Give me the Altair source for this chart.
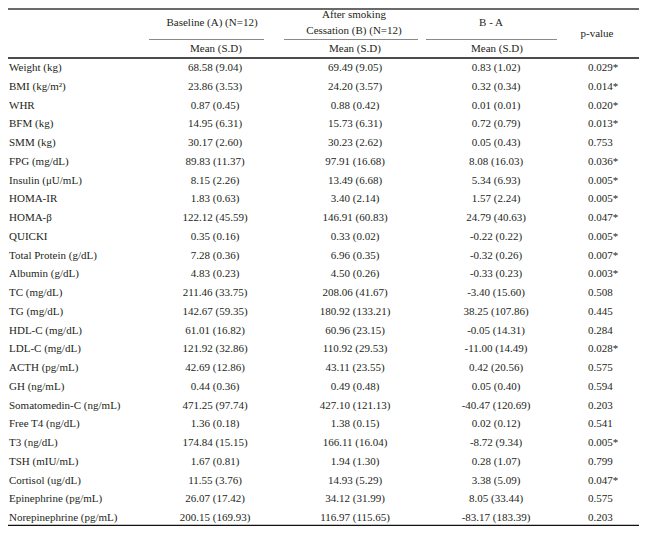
import altair as alt
import pandas as pd

# ---------------- data ----------------
labels = [
    "Weight (kg)", "BMI (kg/m²)", "WHR", "BFM (kg)", "SMM (kg)", "FPG (mg/dL)",
    "Insulin (μU/mL)", "HOMA-IR", "HOMA-β", "QUICKI", "Total Protein (g/dL)",
    "Albumin (g/dL)", "TC (mg/dL)", "TG (mg/dL)", "HDL-C (mg/dL)", "LDL-C (mg/dL)",
    "ACTH (pg/mL)", "GH (ng/mL)", "Somatomedin-C (ng/mL)", "Free T4 (ng/dL)",
    "T3 (ng/dL)", "TSH (mIU/mL)", "Cortisol (ug/dL)", "Epinephrine (pg/mL)",
    "Norepinephrine (pg/mL)",
]
baseline = [
    "68.58 (9.04)", "23.86 (3.53)", "0.87 (0.45)", "14.95 (6.31)", "30.17 (2.60)",
    "89.83 (11.37)", "8.15 (2.26)", "1.83 (0.63)", "122.12 (45.59)", "0.35 (0.16)",
    "7.28 (0.36)", "4.83 (0.23)", "211.46 (33.75)", "142.67 (59.35)", "61.01 (16.82)",
    "121.92 (32.86)", "42.69 (12.86)", "0.44 (0.36)", "471.25 (97.74)", "1.36 (0.18)",
    "174.84 (15.15)", "1.67 (0.81)", "11.55 (3.76)", "26.07 (17.42)", "200.15 (169.93)",
]
after = [
    "69.49 (9.05)", "24.20 (3.57)", "0.88 (0.42)", "15.73 (6.31)", "30.23 (2.62)",
    "97.91 (16.68)", "13.49 (6.68)", "3.40 (2.14)", "146.91 (60.83)", "0.33 (0.02)",
    "6.96 (0.35)", "4.50 (0.26)", "208.06 (41.67)", "180.92 (133.21)", "60.96 (23.15)",
    "110.92 (29.53)", "43.11 (23.55)", "0.49 (0.48)", "427.10 (121.13)", "1.38 (0.15)",
    "166.11 (16.04)", "1.94 (1.30)", "14.93 (5.29)", "34.12 (31.99)", "116.97 (115.65)",
]
diff = [
    "0.83 (1.02)", "0.32 (0.34)", "0.01 (0.01)", "0.72 (0.79)", "0.05 (0.43)",
    "8.08 (16.03)", "5.34 (6.93)", "1.57 (2.24)", "24.79 (40.63)", "-0.22 (0.22)",
    "-0.32 (0.26)", "-0.33 (0.23)", "-3.40 (15.60)", "38.25 (107.86)", "-0.05 (14.31)",
    "-11.00 (14.49)", "0.42 (20.56)", "0.05 (0.40)", "-40.47 (120.69)", "0.02 (0.12)",
    "-8.72 (9.34)", "0.28 (1.07)", "3.38 (5.09)", "8.05 (33.44)", "-83.17 (183.39)",
]
pvals = [
    "0.029*", "0.014*", "0.020*", "0.013*", "0.753", "0.036*", "0.005*", "0.005*",
    "0.047*", "0.005*", "0.007*", "0.003*", "0.508", "0.445", "0.284", "0.028*",
    "0.575", "0.594", "0.203", "0.541", "0.005*", "0.799", "0.047*", "0.575", "0.203",
]
header_texts = ["Baseline (A) (N=12)", "After smoking", "Cessation (B) (N=12)", "B - A",
                "p-value", "Mean (S.D)", "Mean (S.D)", "Mean (S.D)"]

# ---------------- layout (page pixel coordinates) ----------------
W, H = 631, 518
FONT = "Liberation Serif"
FS = 11
TC = "#231f20"
ROW_Y0 = 68
ROW_STEP = 18.75

header_x = [212, 354, 354, 491, 597, 216, 355, 497]
header_y = [23, 15, 31, 23, 34, 49, 49, 49]

rules_x = [8, 149, 284, 426, 8, 8]
rules_x2 = [639, 264, 418, 557, 639, 639]
rules_y = [9, 39.5, 39.5, 39.5, 58, 525.5]
rules_w = [2, 1, 1, 1, 1.3, 1.5]
rules_c = ["#6a6a6a", "#8a8a8a", "#8a8a8a", "#8a8a8a", "#111111", "#111111"]

xs = alt.Scale(domain=[8, 8 + W], range=[0, W])
ys = alt.Scale(domain=[8, 8 + H], range=[0, H])

body = pd.DataFrame({"label": labels, "baseline": baseline, "after": after,
                     "diff": diff, "p": pvals})
body["y"] = ROW_Y0 + body.index * ROW_STEP

head = pd.DataFrame({"text": header_texts, "x": header_x, "y": header_y})
rules = pd.DataFrame({"x": rules_x, "x2": rules_x2, "y": rules_y,
                      "w": rules_w, "c": rules_c})


def col_text(field, xpos, align):
    return (
        alt.Chart(body)
        .transform_calculate(xpos=str(xpos))
        .mark_text(align=align, baseline="middle", font=FONT, fontSize=FS, color=TC)
        .encode(
            x=alt.X("xpos:Q", scale=xs, axis=None),
            y=alt.Y("y:Q", scale=ys, axis=None),
            text=alt.Text(f"{field}:N"),
        )
    )


layers = [
    col_text("label", 9, "left"),
    col_text("baseline", 215, "center"),
    col_text("after", 355, "center"),
    col_text("diff", 496, "center"),
    col_text("p", 588, "left"),
    alt.Chart(head)
    .mark_text(align="center", baseline="middle", font=FONT, fontSize=FS, color=TC)
    .encode(
        x=alt.X("x:Q", scale=xs, axis=None),
        y=alt.Y("y:Q", scale=ys, axis=None),
        text="text:N",
    ),
    alt.Chart(rules)
    .mark_rule()
    .encode(
        x=alt.X("x:Q", scale=xs, axis=None),
        x2="x2:Q",
        y=alt.Y("y:Q", scale=ys, axis=None),
        size=alt.Size("w:Q", scale=None, legend=None),
        color=alt.Color("c:N", scale=None, legend=None),
    ),
]

chart = (
    alt.layer(*layers)
    .properties(width=W, height=H, padding=0,
                autosize=alt.AutoSizeParams(type="none"))
    .configure_view(stroke=None)
)

chart.save("out.html", embed_options={"renderer": "svg", "actions": False})
